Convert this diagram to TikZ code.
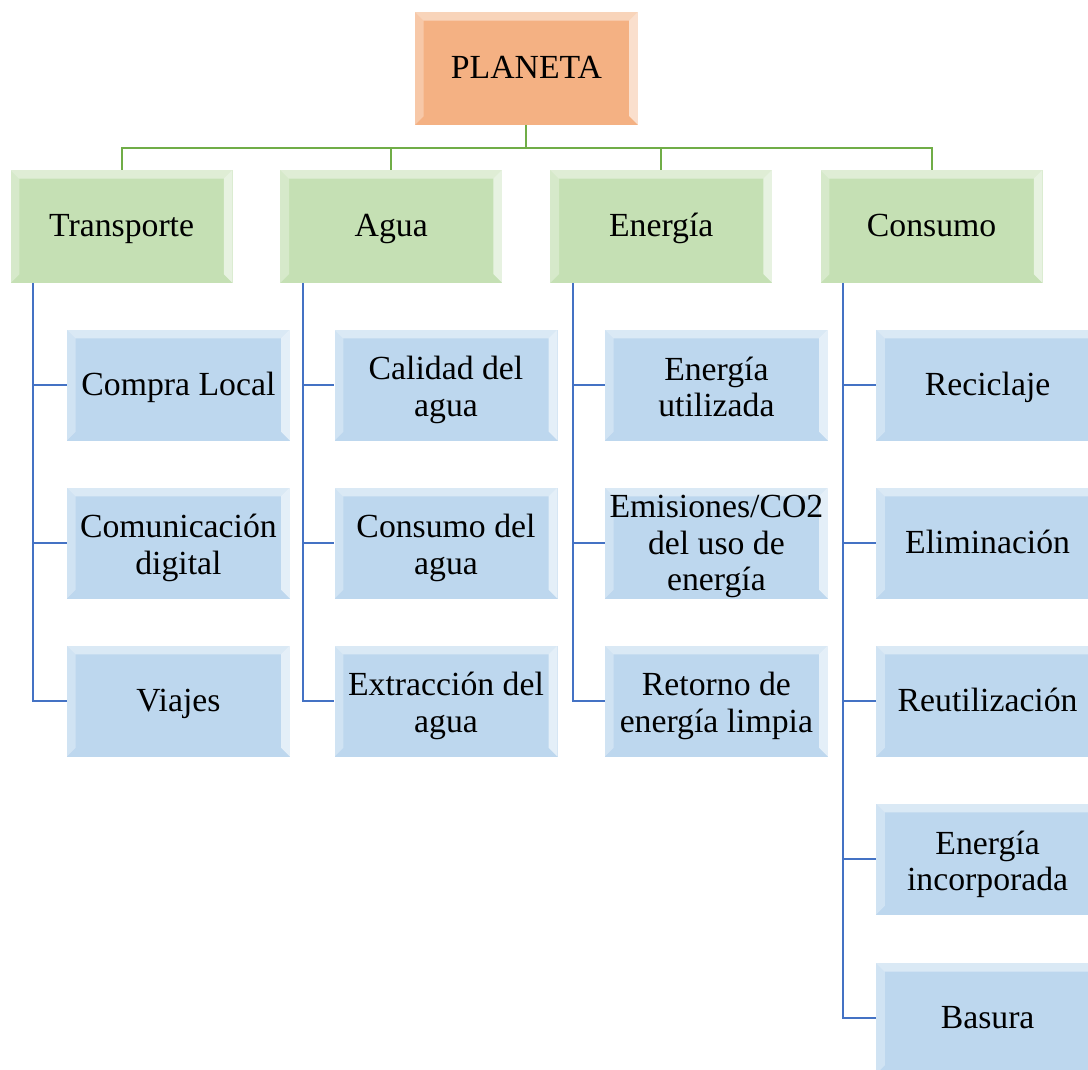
\documentclass[tikz,border=0pt]{standalone}
\usepackage{fontspec}
\setmainfont{Liberation Serif}
\definecolor{topfill}{HTML}{F4B183}
\definecolor{areafill}{HTML}{C5E0B4}
\definecolor{itemfill}{HTML}{BDD7EE}
\definecolor{arealine}{HTML}{70AD47}
\definecolor{itemline}{HTML}{4472C4}
\newcommand{\boxstrut}{\rule[-5pt]{0pt}{25pt}}
\newcommand{\topstrut}{\rule{0pt}{24pt}}
\tikzset{
  bevel/.style={path picture={
    \fill[white,opacity=0.45] (path picture bounding box.north west) -- (path picture bounding box.north east)
      -- ([shift={(-0.22,-0.22)}]path picture bounding box.north east) -- ([shift={(0.22,-0.22)}]path picture bounding box.north west) -- cycle;
    \fill[white,opacity=0.3] (path picture bounding box.north west) -- ([shift={(0.22,-0.22)}]path picture bounding box.north west)
      -- ([shift={(0.22,0.22)}]path picture bounding box.south west) -- (path picture bounding box.south west) -- cycle;
    \fill[white,opacity=0.6] (path picture bounding box.north east) -- ([shift={(-0.22,-0.22)}]path picture bounding box.north east)
      -- ([shift={(-0.22,0.22)}]path picture bounding box.south east) -- (path picture bounding box.south east) -- cycle;
  }},
  box/.style={bevel, inner sep=0pt, align=center, font=\fontsize{24}{26}\selectfont,
    execute at begin node=\boxstrut, execute at end node=\boxstrut},
  topbox/.style={box, fill=topfill, minimum width=5.575cm, minimum height=2.825cm},
  areabox/.style={box, fill=areafill, minimum width=5.55cm, minimum height=2.825cm},
  itembox/.style={box, fill=itemfill, minimum width=5.575cm, minimum height=2.775cm},
  areawire/.style={draw=arealine, line width=1.5pt},
  itemwire/.style={draw=itemline, line width=1.5pt},
}
\begin{document}
\begin{tikzpicture}
\clip (0,0) rectangle (27.2,-26.725);
\useasboundingbox (0,0) rectangle (27.2,-26.725);
% top
\node[topbox] (planeta) at (13.16,-1.71) {PLANETA};
% areas
\foreach \x/\name/\lab in {3.04/transporte/Transporte, 9.78/agua/Agua, 16.53/energia/Energía, 23.29/consumo/Consumo}{
  \node[areabox] (\name) at (\x,-5.66) {\lab};
  \draw[areawire] (planeta.south) -- ++(0,-0.575) -| (\name.north);
}
% Transporte
\node[itembox] (compra) at (4.46,-9.625) {Compra Local};
\node[itembox] (comunicacion) at (4.46,-13.575) {\topstrut Comunicación\\digital};
\node[itembox] (viajes) at (4.46,-17.525) {Viajes};
% Agua
\node[itembox] (calidad) at (11.15,-9.625) {\topstrut Calidad del\\agua};
\node[itembox] (consumoagua) at (11.15,-13.575) {\topstrut Consumo del\\agua};
\node[itembox] (extraccion) at (11.15,-17.525) {\topstrut Extracción del\\agua};
% Energia
\node[itembox] (utilizada) at (17.91,-9.625) {\topstrut Energía\\utilizada};
\node[itembox] (emisiones) at (17.91,-13.575) {\rule{0pt}{21pt}Emisiones/CO2\\del uso de\\energía};
\node[itembox] (retorno) at (17.91,-17.525) {\topstrut Retorno de\\energía limpia};
% Consumo
\node[itembox] (reciclaje) at (24.69,-9.625) {Reciclaje};
\node[itembox] (eliminacion) at (24.69,-13.575) {Eliminación};
\node[itembox] (reutilizacion) at (24.69,-17.525) {Reutilización};
\node[itembox] (incorporada) at (24.69,-21.475) {\topstrut Energía\\incorporada};
\node[itembox] (basura) at (24.69,-25.46) {Basura};
% branches
\foreach \area/\items in {transporte/{compra,comunicacion,viajes}, agua/{calidad,consumoagua,extraccion},
  energia/{utilizada,emisiones,retorno}, consumo/{reciclaje,eliminacion,reutilizacion,incorporada,basura}}{
  \foreach \item in \items
    \draw[itemwire] ([xshift=0.575cm]\area.south west) |- (\item.west);
}
\end{tikzpicture}
\end{document}
